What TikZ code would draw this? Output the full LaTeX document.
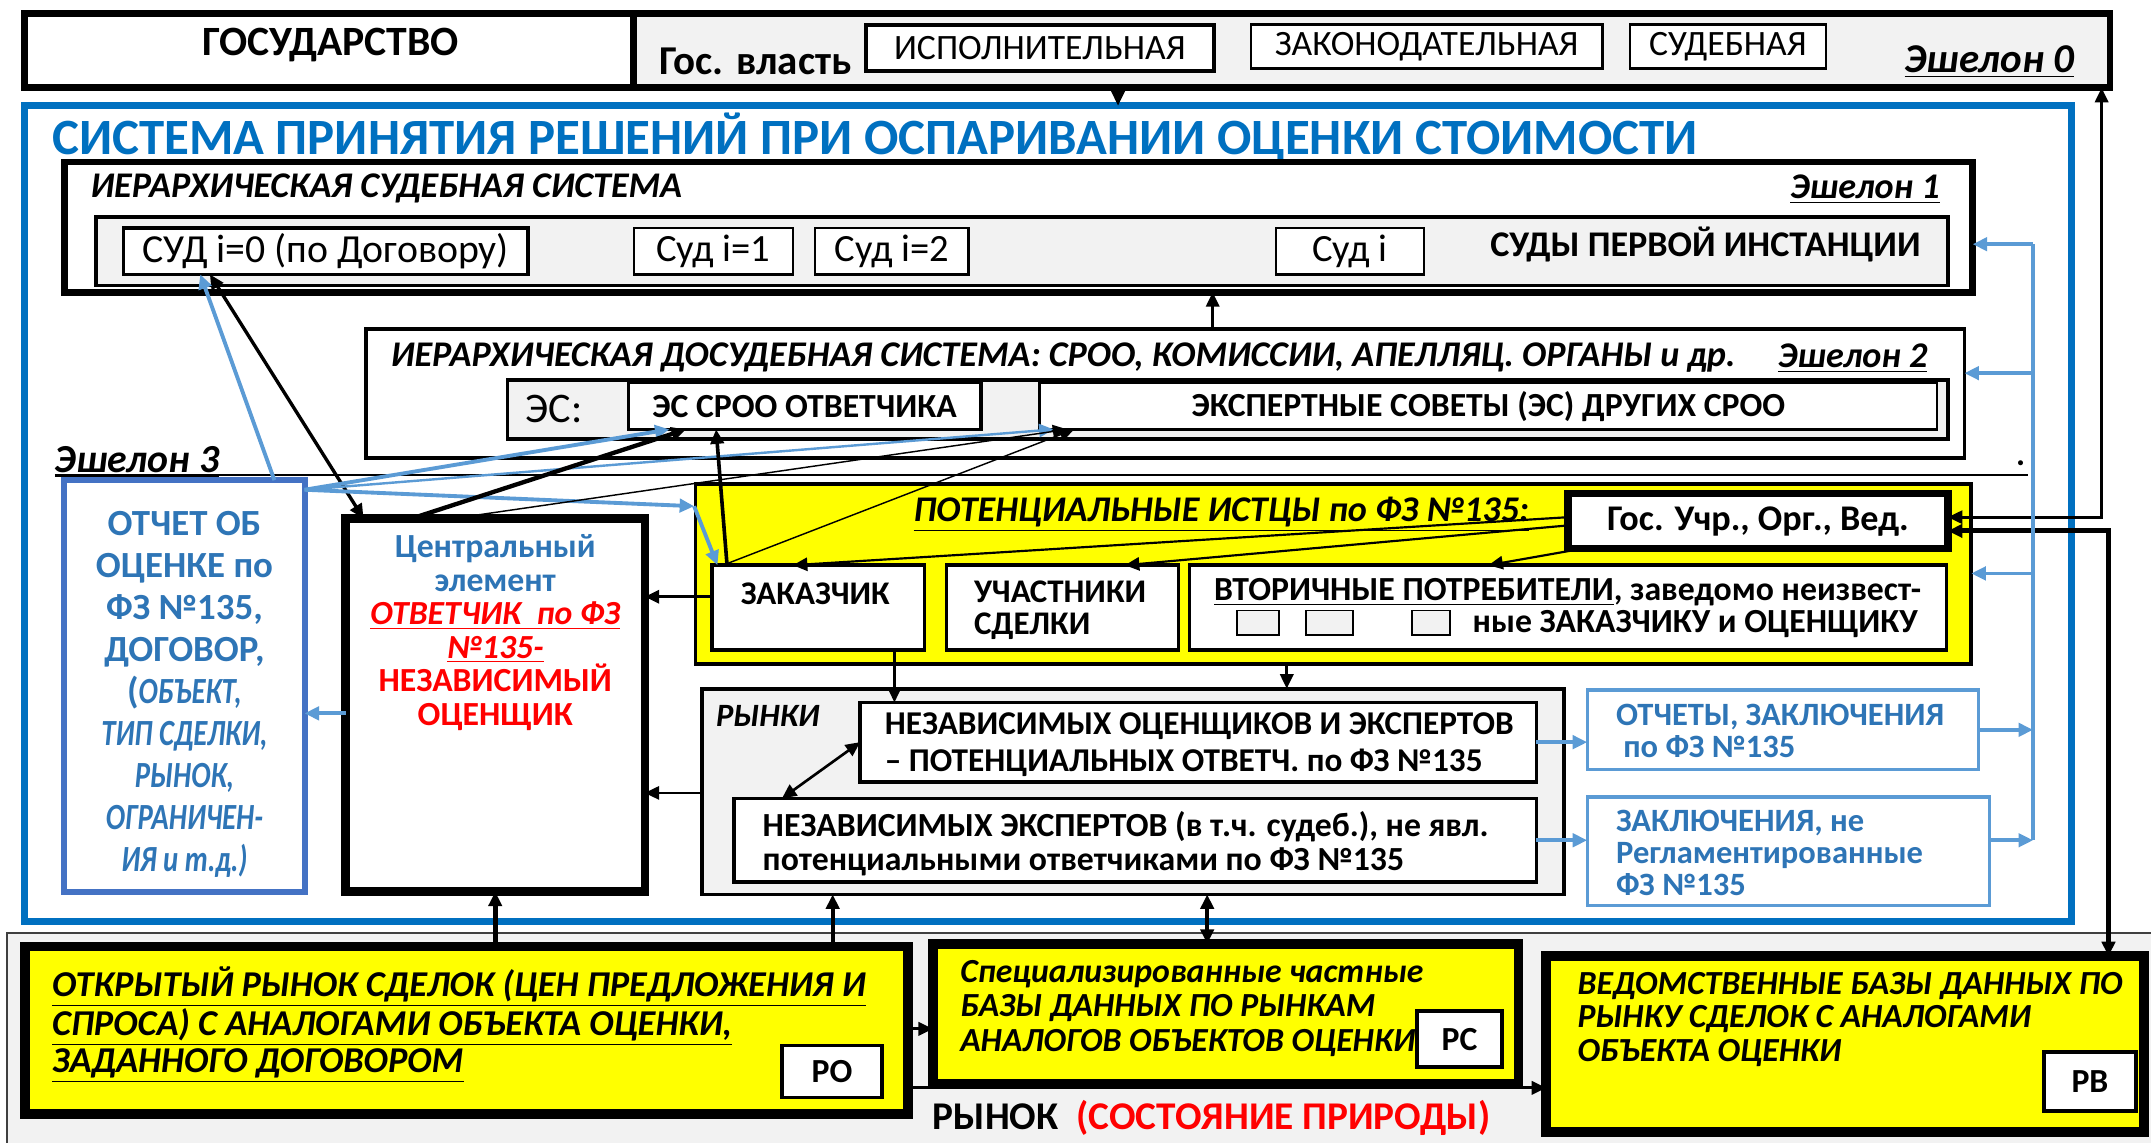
\documentclass[tikz,border=0pt]{standalone}
\usepackage{fontspec}
\usepackage{graphicx}
\setmainfont{Carlito}
\usetikzlibrary{arrows.meta,calc}
\definecolor{frameblue}{HTML}{0070C0}
\definecolor{lblue}{HTML}{5B9BD5}
\definecolor{mblue}{HTML}{4472C4}
\definecolor{tblue}{HTML}{2E75B6}
\definecolor{gfill}{HTML}{F2F2F2}
\definecolor{yfill}{HTML}{FFFF00}
\definecolor{rtext}{HTML}{FF0000}
\newcommand\BX[7]{\node[#1, anchor=north west, minimum width={(#4-#2)*0.02cm}, minimum height={(#5-#3)*0.02cm}] (#6) at (#2,#3) {#7};}
\newcommand\F[2]{\fontsize{#1}{#2}\selectfont}
\newcommand\NI[1]{\scalebox{0.78}[1]{\itshape #1}}
\begin{document}
\begin{tikzpicture}[x=0.02cm,y=-0.02cm,
  every node/.style={inner sep=0pt, outer sep=0pt},
  thickbox/.style={draw, line width=2.8pt, fill=white},
  medbox/.style={draw, line width=1.5pt, fill=white},
  thinbox/.style={draw, line width=1pt, fill=white},
  ybox/.style={draw, line width=4pt, fill=yfill},
  tip/.style={-{Triangle[length=6pt,width=5.5pt]}},
  ar/.style={tip, line width=1.1pt},
  dar/.style={{Triangle[length=6pt,width=5.5pt]}-{Triangle[length=6pt,width=5.5pt]}, line width=1.1pt},
  bar/.style={tip, draw=lblue, line width=1.6pt},
  bt/.style={font=\F{15}{18}\bfseries\itshape},
]
\useasboundingbox (0,0) rectangle (1568,833);

% ---------- market (bottom) ----------
\BX{draw=black!75, line width=0.8pt, fill=gfill}{5}{680}{1600}{860}{rynok}{}
\node[font=\F{16.3}{19}\bfseries, anchor=west] (rynokt) at (680,815) {РЫНОК\ \ \textcolor{rtext}{(СОСТОЯНИЕ ПРИРОДЫ)}};

% ---------- top band ----------
\BX{draw, line width=2.8pt, fill=gfill}{462}{10}{1538}{64}{vlast}{}
\BX{thickbox}{18}{10}{462}{64}{gos}{}
\node[font=\F{17.3}{20}\bfseries] (gost) at (241,33) {ГОСУДАРСТВО};
\node[font=\F{17}{20}\bfseries, anchor=west] (vlt) at (481,45) {Гос. власть};
\BX{draw, line width=1.6pt, fill=white, font=\F{14.8}{17}}{631}{18}{885}{52}{ispol}{ИСПОЛНИТЕЛЬНАЯ}
\BX{thinbox, font=\F{14.8}{17}}{912}{18}{1168}{50}{zakon}{ЗАКОНОДАТЕЛЬНАЯ}
\BX{thinbox, font=\F{14.8}{17}}{1188}{18}{1331}{50}{sudeb}{СУДЕБНАЯ}
\node[font=\F{17}{20}\bfseries\itshape, anchor=east] (esh0) at (1512,45) {\underline{Эшелон 0}};

% ---------- blue frame ----------
\BX{draw=frameblue, line width=3pt, fill=white}{18}{77}{1510}{672}{frame}{}
\node[font=\F{21.1}{25}\bfseries, text=frameblue, anchor=west] (title) at (38,100) {СИСТЕМА ПРИНЯТИЯ РЕШЕНИЙ ПРИ ОСПАРИВАНИИ ОЦЕНКИ СТОИМОСТИ};

% ---------- echelon 1 ----------
\BX{thickbox}{47}{118}{1438}{213}{e1}{}
\node[bt, anchor=west] (e1t) at (66,137) {ИЕРАРХИЧЕСКАЯ СУДЕБНАЯ СИСТЕМА};
\node[bt, anchor=east] (esh1) at (1414,138) {\underline{Эшелон 1}};
\BX{draw, line width=1.5pt, fill=gfill}{70}{158}{1420}{208}{e1in}{}
\BX{medbox, font=\F{16.5}{18}}{90}{166}{385}{200}{sud0}{СУД i=0 (по Договору)}
\BX{thinbox, font=\F{16}{18}}{462}{166}{578}{200}{sud1}{Суд i=1}
\BX{thinbox, font=\F{16}{18}}{594}{166}{706}{200}{sud2}{Суд i=2}
\BX{thinbox, font=\F{16}{18}}{930}{166}{1038}{200}{sudi}{Суд i}
\node[font=\F{15}{18}\bfseries, anchor=east] (sudyt) at (1400,178) {СУДЫ ПЕРВОЙ ИНСТАНЦИИ};

% ---------- echelon 2 ----------
\BX{draw, line width=1.6pt, fill=white}{267}{240}{1432}{334}{e2}{}
\node[bt, anchor=west] (e2t) at (285,261) {ИЕРАРХИЧЕСКАЯ ДОСУДЕБНАЯ СИСТЕМА: СРОО, КОМИССИИ, АПЕЛЛЯЦ. ОРГАНЫ и др.};
\node[bt, anchor=east] (esh2) at (1405,261) {\underline{Эшелон 2}};
\BX{draw, line width=1.4pt, fill=gfill}{370}{277}{1420}{320}{e2in}{}
\node[font=\F{17.5}{20}, anchor=west] (est) at (383,298) {ЭС:};
\BX{draw, line width=1.4pt, fill=white, font=\F{14}{17}\bfseries}{458}{279}{715}{313}{esotv}{ЭС СРОО ОТВЕТЧИКА}
\BX{draw, line width=1.2pt, fill=white, font=\F{14}{17}\bfseries}{758}{279}{1412}{313}{esdr}{ЭКСПЕРТНЫЕ СОВЕТЫ (ЭС) ДРУГИХ СРОО}

% ---------- echelon 3 ----------
\node[font=\F{16.5}{19}\bfseries\itshape, anchor=west] (esh3) at (40,337) {\underline{Эшелон 3}};
\draw[line width=0.8pt] (40,346) -- (1478,346);
\node[font=\F{14}{17}\bfseries] (dot) at (1473,338) {.};

% ---------- report box ----------
\BX{draw=mblue, line width=2.5pt, fill=white}{47}{350}{222}{650}{otchet}{}
\node[align=center, text=tblue, font=\F{15.3}{17.4}\bfseries] (otchett) at (134.5,506) {ОТЧЕТ ОБ\\ОЦЕНКЕ по\\ФЗ №135,\\ДОГОВОР,\\(\NI{ОБЪЕКТ,}\\\NI{ТИП СДЕЛКИ,}\\\NI{РЫНОК,}\\\NI{ОГРАНИЧЕН-}\\\NI{ИЯ и т.д.)}};

% ---------- central box ----------
\BX{draw, line width=3.5pt, fill=white}{252}{378}{470}{650}{cent}{}
\node[align=center, font=\F{14}{13.9}\bfseries] (centt) at (361,461) {\textcolor{tblue}{Центральный}\\\textcolor{tblue}{элемент}\\\textcolor{rtext}{\itshape\underline{ОТВЕТЧИК\ \ по ФЗ}}\\\textcolor{rtext}{\itshape\underline{№135-}}\\\textcolor{rtext}{НЕЗАВИСИМЫЙ}\\\textcolor{rtext}{ОЦЕНЩИК}};

% ---------- potential plaintiffs ----------
\BX{draw, line width=1.6pt, fill=yfill}{507}{353}{1437}{484}{yel}{}
\node[font=\F{15}{17}\bfseries\itshape, anchor=west] (yelt) at (666,375) {\underline{ПОТЕНЦИАЛЬНЫЕ ИСТЦЫ по ФЗ №135:}};
\BX{draw, line width=3pt, fill=white, font=\F{15}{17}\bfseries}{1143}{360}{1420}{400}{gosu}{Гос. Учр., Орг., Вед.}
\BX{medbox}{519}{412}{674}{474}{zak}{}
\node[font=\F{13.7}{16}\bfseries, anchor=west] (zakt) at (540,433) {ЗАКАЗЧИК};
\BX{medbox}{690}{412}{859}{474}{uch}{}
\node[font=\F{13.7}{13.2}\bfseries, anchor=west, align=left] (ucht) at (710,445) {УЧАСТНИКИ\\СДЕЛКИ};
\BX{medbox}{867}{412}{1419}{474}{vtor}{}
\node[font=\F{14}{16}\bfseries, anchor=west] (vtort1) at (885,432) {\underline{ВТОРИЧНЫЕ ПОТРЕБИТЕЛИ}, заведомо неизвест-};
\node[font=\F{14}{16}\bfseries, anchor=east] (vtort2) at (1398,455) {ные ЗАКАЗЧИКУ и ОЦЕНЩИКУ};
\BX{draw, line width=0.8pt, fill=gfill}{902}{445}{932}{463}{sq1}{}
\BX{draw, line width=0.8pt, fill=gfill}{952}{445}{986}{463}{sq2}{}
\BX{draw, line width=0.8pt, fill=gfill}{1029}{445}{1057}{463}{sq3}{}

% ---------- markets ----------
\BX{draw, line width=1.6pt, fill=gfill}{512}{502}{1140}{652}{ryn}{}
\node[font=\F{13.5}{16}\bfseries\itshape, anchor=west] (rynt) at (522,522) {РЫНКИ};
\BX{medbox}{627}{512}{1120}{570}{nez1}{}
\node[font=\F{13.8}{15.4}\bfseries, anchor=west, align=left] (nez1t) at (645,543) {НЕЗАВИСИМЫХ ОЦЕНЩИКОВ И ЭКСПЕРТОВ\\– ПОТЕНЦИАЛЬНЫХ ОТВЕТЧ. по ФЗ №135};
\BX{medbox}{535}{582}{1120}{643}{nez2}{}
\node[font=\F{14}{14.4}\bfseries, anchor=west, align=left] (nez2t) at (556,615) {НЕЗАВИСИМЫХ ЭКСПЕРТОВ (в т.ч. судеб.), не явл.\\потенциальными ответчиками по ФЗ №135};
\BX{draw=lblue, line width=1.3pt, fill=white}{1157}{503}{1442}{561}{otch2}{}
\node[font=\F{13.5}{13.3}\bfseries, text=tblue, anchor=west, align=left] (otch2t) at (1178,533) {ОТЧЕТЫ, ЗАКЛЮЧЕНИЯ\\\ по ФЗ №135};
\BX{draw=lblue, line width=1.3pt, fill=white}{1157}{581}{1450}{660}{zakl}{}
\node[font=\F{13.5}{13.3}\bfseries, text=tblue, anchor=west, align=left] (zaklt) at (1178,622) {ЗАКЛЮЧЕНИЯ, не\\Регламентированные\\ФЗ №135};

% ---------- data bases (bottom) ----------
\BX{ybox}{18}{690}{662}{812}{otkr}{}
\node[font=\F{15.1}{15.2}\bfseries\itshape, anchor=west, align=left] (otkrt) at (38,747) {\underline{ОТКРЫТЫЙ РЫНОК СДЕЛОК (ЦЕН ПРЕДЛОЖЕНИЯ И}\\\underline{СПРОСА) С АНАЛОГАМИ ОБЪЕКТА ОЦЕНКИ,}\\\underline{ЗАДАННОГО ДОГОВОРОМ}};
\BX{medbox, font=\F{14}{17}\bfseries}{570}{762}{643}{800}{ro}{РО}
\BX{ybox}{680}{688}{1107}{790}{spec}{}
\node[font=\F{14}{14.3}\bfseries\itshape, anchor=west, align=left] (spect) at (700,735) {Специализированные частные\\БАЗЫ ДАННЫХ ПО РЫНКАМ\\АНАЛОГОВ ОБЪЕКТОВ ОЦЕНКИ};
\BX{medbox, font=\F{14}{17}\bfseries}{1033}{737}{1095}{778}{rs}{РС}
\BX{ybox}{1127}{697}{1563}{825}{ved}{}
\node[font=\F{14}{14}\bfseries\itshape, anchor=west, align=left] (vedt) at (1150,743) {ВЕДОМСТВЕННЫЕ БАЗЫ ДАННЫХ ПО\\РЫНКУ СДЕЛОК С АНАЛОГАМИ\\ОБЪЕКТА ОЦЕНКИ};
\BX{medbox, font=\F{14}{17}\bfseries}{1490}{767}{1557}{810}{rv}{РВ}

% ---------- connectors ----------
\draw[ar] ($(vlast.south west)+(353,0)$) coordinate (t1) -- (t1 |- frame.north);
\draw[ar] ($(e2.north west)+(617,0)$) coordinate (t2) -- (t2 |- e1.south);

% right side black connectors
\draw[dar] ($(vlast.south east)+(-6,0)$) |- ($(gosu.north east)+(0,17)$);
\draw[dar, line width=2pt] ($(gosu.north east)+(0,27)$) -| ($(ved.north west)+(410,0)$);

% right side light-blue bus
\coordinate (vtop) at (1482,178);
\coordinate (vbot) at (1482,612);
\draw[draw=lblue, line width=1.6pt] (vtop) -- (vbot);
\draw[bar] (vtop) -- (vtop -| e1.east);
\draw[bar] ($(vtop)+(0,94)$) coordinate (v2) -- (v2 -| e2.east);
\draw[bar] ($(vtop)+(0,240)$) coordinate (v3) -- (v3 -| yel.east);
\draw[bar] (otch2.east) -- (otch2.east -| vtop);
\draw[bar] ($(zakl.east)+(0,-8)$) coordinate (v5) -- (v5 -| vtop);

% inside yellow box
\draw[ar, line width=0.9pt] ($(gosu.north west)+(0,17)$) -- ($(zak.north west)+(59,0)$);
\draw[ar, line width=0.9pt] ($(gosu.north west)+(0,23)$) -- ($(uch.north west)+(130,0)$);
\draw[ar, line width=0.9pt] ($(gosu.south west)+(10,0)$) -- ($(vtor.north west)+(218,0)$);

% plaintiffs / markets
\draw[ar] ($(zak.south west)+(133,0)$) coordinate (z1) -- (z1 |- nez1.north);
\draw[ar] ($(yel.south west)+(431,0)$) coordinate (z2) -- (z2 |- ryn.north);
\draw[ar] ($(zak.north west)+(0,23)$) coordinate (z3) -- (z3 -| cent.east);
\draw[ar] ($(ryn.north west)+(0,76)$) coordinate (z4) -- (z4 -| cent.east);
\draw[bar] ($(cent.north west)+(0,142)$) coordinate (z5) -- (z5 -| otchet.east);
\draw[dar] (nez1.west) -- ($(nez2.north west)+(35,0)$);
\draw[bar] (nez1.east) -- (nez1.east -| otch2.west);
\draw[bar] (nez2.east) -- (nez2.east -| zakl.west);

% upper-left tangle
\draw[dar, line width=1.4pt] ($(sud0.south west)+(63,0)$) -- ($(cent.north west)+(13,0)$);
\draw[bar] ($(otchet.north west)+(153,0)$) -- ($(sud0.south west)+(56,0)$);
\coordinate (ob) at ($(otchet.north east)+(0,7)$);
\draw[bar] (ob) -- ($(esotv.south west)+(30,0)$);
\draw[bar, line width=1pt] (ob) -- ($(esdr.south west)+(10,0)$);
\coordinate (yl) at ($(yel.north west)+(-1,16)$);
\draw[bar] (ob) -- (yl);
\draw[bar] (yl) -- ($(zak.north west)+(4,0)$);
\draw[ar, line width=1.8pt] ($(cent.north west)+(48,0)$) -- ($(esotv.south west)+(42,0)$);
\draw[ar, line width=0.6pt] ($(cent.north west)+(78,0)$) -- ($(esdr.south west)+(20,0)$);
\draw[ar, line width=1.5pt] ($(zak.north west)+(11,0)$) -- ($(esotv.south west)+(64,0)$);
\draw[ar, line width=0.6pt] ($(zak.north west)+(8,0)$) -- ($(esdr.south west)+(25,0)$);

% bottom connectors
\draw[ar, line width=2pt] ($(otkr.north west)+(343,0)$) coordinate (b1) -- (b1 |- cent.south);
\draw[ar, line width=1.6pt] ($(otkr.north west)+(589,0)$) coordinate (b2) -- (b2 |- ryn.south);
\draw[dar, line width=1.8pt] ($(spec.north west)+(200,0)$) coordinate (b3) -- (b3 |- ryn.south);
\draw[ar, line width=1.3pt] ($(otkr.north east)+(0,60)$) coordinate (b4) -- (b4 -| spec.west);
\draw[ar, line width=1.3pt] ($(otkr.north east)+(0,103)$) coordinate (b5) -- (b5 -| ved.west);
\end{tikzpicture}
\end{document}
